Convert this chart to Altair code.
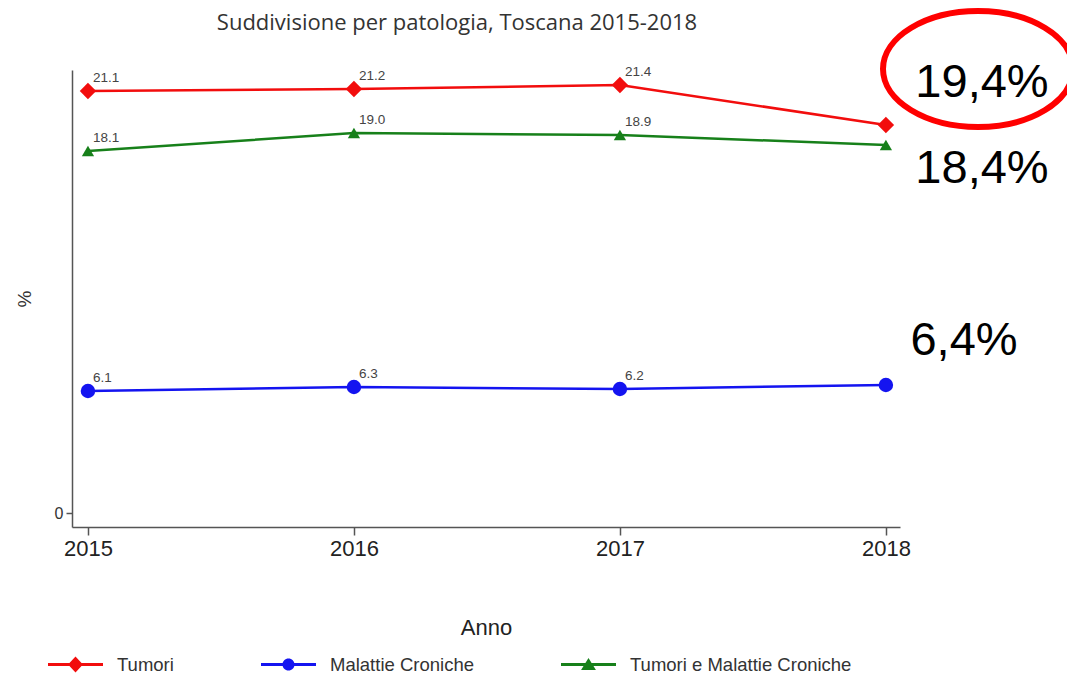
import altair as alt
import pandas as pd

# ---- data ----
anni = [2015, 2016, 2017, 2018]
serie = ["Tumori", "Malattie Croniche", "Tumori e Malattie Croniche"]
tumori = [21.1, 21.2, 21.4, 19.4]
croniche = [6.1, 6.3, 6.2, 6.4]
entrambi = [18.1, 19.0, 18.9, 18.4]
annotazioni = ["19,4%", "18,4%", "6,4%"]
titolo = "Suddivisione per patologia, Toscana 2015-2018"

colori = ["#f20d0d", "#1414f0", "#17801a"]
forme = ["diamond", "circle", "triangle-up"]
dimensioni = [270, 150, 200]

# legend symbols: a line with the marker on it
LINE = "M-1,-0.055H1V0.055H-1Z"
leg_forme = [
    LINE + "M0,-0.29L0.27,0L0,0.29L-0.27,0Z",
    LINE + "M-0.22,0C-0.22,-0.1215,-0.1215,-0.22,0,-0.22C0.1215,-0.22,0.22,-0.1215,0.22,0"
           "C0.22,0.1215,0.1215,0.22,0,0.22C-0.1215,0.22,-0.22,0.1215,-0.22,0Z",
    LINE + "M0,-0.24L0.27,0.2L-0.27,0.2Z",
]
ELLISSE = ("M-1,0C-1,-0.337,-0.5523,-0.61,0,-0.61C0.5523,-0.61,1,-0.337,1,0"
           "C1,0.337,0.5523,0.61,0,0.61C-0.5523,0.61,-1,0.337,-1,0Z")

rows = []
for s, vals in zip(serie, [tumori, croniche, entrambi]):
    for a, v in zip(anni, vals):
        rows.append({"anno": a, "serie": s, "valore": v})
df = pd.DataFrame(rows)

FONT = "Liberation Sans"
W, H = 828, 457

x = alt.X("anno:Q",
          scale=alt.Scale(domain=[2014.94, 2018.053], nice=False, zero=False),
          axis=alt.Axis(values=anni, format="d", title="Anno", grid=False,
                        labelFontSize=22, labelColor="#222", labelFont=FONT,
                        tickSize=8, tickColor="#555", tickWidth=1.5,
                        domainColor="#555", domainWidth=1.5, labelPadding=3,
                        titleFontSize=22, titleFont=FONT, titleFontWeight="normal",
                        titleColor="#222", titlePadding=58))
y = alt.Y("valore:Q",
          scale=alt.Scale(domain=[-0.7, 22.15], nice=False, zero=False),
          axis=alt.Axis(values=[0], title="%", grid=False,
                        labelFontSize=16, labelColor="#333", labelFont=FONT,
                        tickSize=6, tickColor="#555", tickWidth=1.5,
                        domainColor="#555", domainWidth=1.5, labelPadding=3,
                        titleFontSize=19, titleFont=FONT, titleFontWeight="normal",
                        titleColor="#333", titlePadding=20))

sdom = alt.Scale(domain=serie, range=colori)

linee = alt.Chart(df).mark_line(strokeWidth=2.5).encode(
    x=x, y=y,
    stroke=alt.Stroke("serie:N", scale=sdom, legend=None),
    detail="serie:N",
)

punti = alt.Chart(df).mark_point(filled=True, opacity=1, strokeWidth=0).encode(
    x=x, y=y,
    fill=alt.Fill("serie:N", scale=sdom, legend=None),
    shape=alt.Shape("serie:N", scale=alt.Scale(domain=serie, range=forme), legend=None),
    size=alt.Size("serie:N", scale=alt.Scale(domain=serie, range=dimensioni), legend=None),
)

etichette = alt.Chart(df).transform_filter(alt.datum.anno < 2018).mark_text(
    align="left", baseline="alphabetic", dx=5, dy=-9, fontSize=13.5,
    font=FONT, color="#444"
).encode(x=x, y=y, text=alt.Text("valore:Q", format=".1f"))

# legend-only layer: no marks drawn (empty data), scales fixed by domain
legenda = alt.Chart(df).transform_filter("false").mark_point(filled=True, opacity=1).encode(
    x=x, y=y,
    color=alt.Color("serie:N", scale=alt.Scale(domain=serie, range=colori),
                    title=None,
                    legend=alt.Legend(orient="none", direction="horizontal",
                                      legendX=-24, legendY=567,
                                      symbolSize=3025, symbolStrokeWidth=0,
                                      symbolOpacity=1, labelFontSize=18.5,
                                      labelFont=FONT, labelColor="#333",
                                      labelOffset=14, columnPadding=87,
                                      padding=0, labelLimit=400)),
    shape=alt.Shape("serie:N", scale=alt.Scale(domain=serie, range=leg_forme),
                    title=None),
)

tit = alt.Chart(pd.DataFrame({"t": [titolo]})).mark_text(
    fontSize=22, font="Open Sans", color="#333", align="center",
    baseline="alphabetic"
).encode(x=alt.value(385), y=alt.value(-40), text="t:N")

ann_df = pd.DataFrame({"t": annotazioni})
ann1 = alt.Chart(ann_df).transform_filter(alt.datum.t == annotazioni[0]).mark_text(
    fontSize=47, font=FONT, color="#000", align="center", baseline="alphabetic"
).encode(x=alt.value(910), y=alt.value(27), text="t:N")
ann2 = alt.Chart(ann_df).transform_filter(alt.datum.t == annotazioni[1]).mark_text(
    fontSize=47, font=FONT, color="#000", align="center", baseline="alphabetic"
).encode(x=alt.value(910), y=alt.value(113), text="t:N")
ann3 = alt.Chart(ann_df).transform_filter(alt.datum.t == annotazioni[2]).mark_text(
    fontSize=47, font=FONT, color="#000", align="center", baseline="alphabetic"
).encode(x=alt.value(892), y=alt.value(285), text="t:N")

ellisse = alt.Chart(ann_df).transform_filter(alt.datum.t == annotazioni[0]).mark_point(
    shape=ELLISSE, filled=False,
    stroke="#ff0000", strokeWidth=6, size=36100, opacity=1
).encode(x=alt.value(906), y=alt.value(-1))

chart = alt.layer(
    linee, punti, etichette, legenda, tit, ann1, ann2, ann3, ellisse
).resolve_scale(
    shape="independent", color="independent", size="independent",
    fill="independent", stroke="independent"
).properties(
    width=W, height=H,
    padding={"left": 64, "top": 62, "right": 167, "bottom": 147},
    autosize=alt.AutoSizeParams(type="none"),
    background="white",
).configure_view(strokeWidth=0, stroke="transparent")

chart.save("out.html", embed_options={"renderer": "svg", "actions": False})
